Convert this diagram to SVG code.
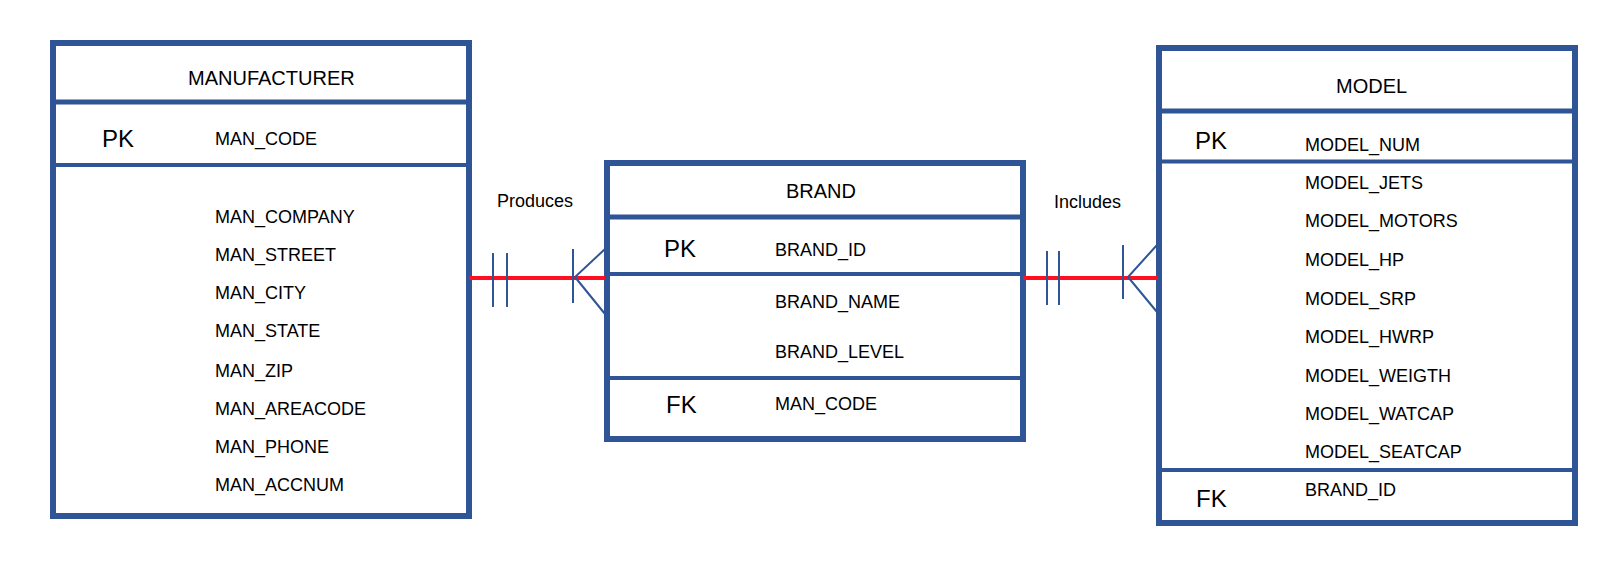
<svg xmlns="http://www.w3.org/2000/svg" width="1620" height="582" viewBox="0 0 1620 582">
<style>
.box{fill:#fff;stroke:#2F5597;stroke-width:6}
.hdr{stroke:#2F5597;stroke-width:5}
.div{stroke:#2F5597;stroke-width:4}
.t{font-family:"Liberation Sans",Arial,sans-serif;fill:#000}
.title{font-size:20px}
.key{font-size:24px}
.attr{font-size:18px}
.rel{stroke:#FF0F1F;stroke-width:4}
.tick{stroke:#2F5597;stroke-width:2;fill:none}
</style>
<rect width="1620" height="582" fill="#fff"/>
<g id="manufacturer">
<rect class="box" x="53" y="43" width="416" height="473"/>
<line class="hdr" x1="53" y1="102" x2="469" y2="102"/>
<line class="div" x1="53" y1="165" x2="469" y2="165"/>
<text class="t title" x="188" y="85">MANUFACTURER</text>
<text class="t key" x="102" y="147">PK</text>
<text class="t attr" x="215" y="145">MAN_CODE</text>
<text class="t attr" x="215" y="223">MAN_COMPANY</text>
<text class="t attr" x="215" y="261">MAN_STREET</text>
<text class="t attr" x="215" y="299">MAN_CITY</text>
<text class="t attr" x="215" y="337">MAN_STATE</text>
<text class="t attr" x="215" y="377">MAN_ZIP</text>
<text class="t attr" x="215" y="415">MAN_AREACODE</text>
<text class="t attr" x="215" y="453">MAN_PHONE</text>
<text class="t attr" x="215" y="491">MAN_ACCNUM</text>
</g>
<g id="brand">
<rect class="box" x="607" y="163" width="416" height="276"/>
<line class="hdr" x1="607" y1="217" x2="1023" y2="217"/>
<line class="div" x1="607" y1="274" x2="1023" y2="274"/>
<line class="div" x1="607" y1="378" x2="1023" y2="378"/>
<text class="t title" x="786" y="198">BRAND</text>
<text class="t key" x="664" y="257">PK</text>
<text class="t attr" x="775" y="256">BRAND_ID</text>
<text class="t attr" x="775" y="308">BRAND_NAME</text>
<text class="t attr" x="775" y="358">BRAND_LEVEL</text>
<text class="t key" x="666" y="413">FK</text>
<text class="t attr" x="775" y="410">MAN_CODE</text>
</g>
<g id="model">
<rect class="box" x="1159" y="48" width="416" height="475"/>
<line class="hdr" x1="1159" y1="111" x2="1575" y2="111"/>
<line class="div" x1="1159" y1="161.5" x2="1575" y2="161.5"/>
<line class="div" x1="1159" y1="470" x2="1575" y2="470"/>
<text class="t title" x="1336" y="93">MODEL</text>
<text class="t key" x="1195" y="149">PK</text>
<text class="t attr" x="1305" y="151">MODEL_NUM</text>
<text class="t attr" x="1305" y="189">MODEL_JETS</text>
<text class="t attr" x="1305" y="227">MODEL_MOTORS</text>
<text class="t attr" x="1305" y="266">MODEL_HP</text>
<text class="t attr" x="1305" y="305">MODEL_SRP</text>
<text class="t attr" x="1305" y="343">MODEL_HWRP</text>
<text class="t attr" x="1305" y="382">MODEL_WEIGTH</text>
<text class="t attr" x="1305" y="420">MODEL_WATCAP</text>
<text class="t attr" x="1305" y="458">MODEL_SEATCAP</text>
<text class="t key" x="1196" y="507">FK</text>
<text class="t attr" x="1305" y="496">BRAND_ID</text>
</g>
<g id="connectors">
<g id="produces">
<line class="rel" x1="469" y1="278" x2="605" y2="278"/>
<line class="tick" x1="493" y1="253" x2="493" y2="307"/>
<line class="tick" x1="507" y1="253" x2="507" y2="307"/>
<line class="tick" x1="573" y1="249" x2="573" y2="303"/>
<polyline class="tick" points="605,249 575,277 605,314"/>
<text class="t attr" x="497" y="207">Produces</text>
</g>
<g id="includes">
<line class="rel" x1="1023" y1="278" x2="1158" y2="278"/>
<line class="tick" x1="1047" y1="251" x2="1047" y2="305"/>
<line class="tick" x1="1059" y1="251" x2="1059" y2="305"/>
<line class="tick" x1="1123" y1="245" x2="1123" y2="299"/>
<polyline class="tick" points="1157,245 1128,277 1157,312"/>
<text class="t attr" x="1054" y="208">Includes</text>
</g>
</g>
</svg>
